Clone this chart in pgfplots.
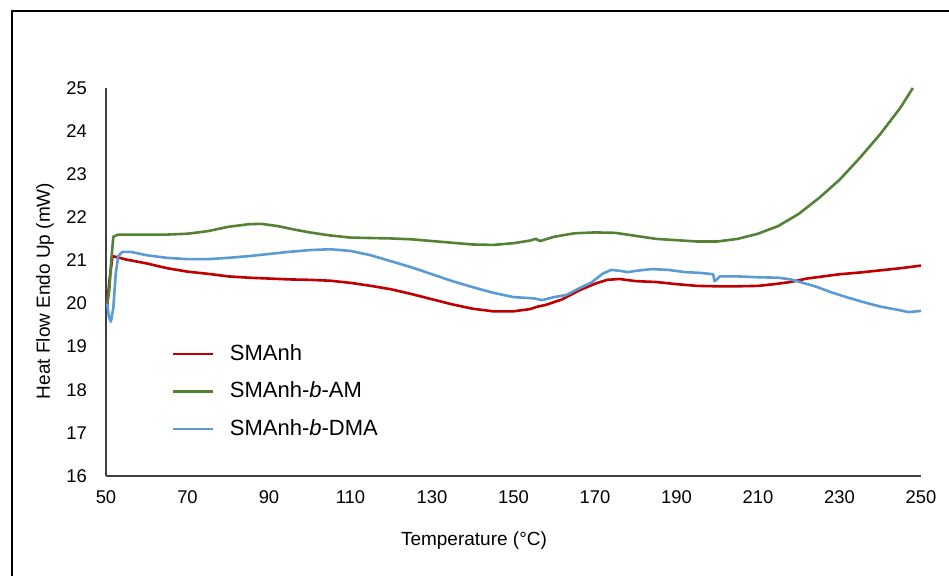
\documentclass[border=0pt]{standalone}
\usepackage{fontspec}
\setmainfont{Liberation Sans}
\usepackage{pgfplots}
\pgfplotsset{compat=1.18}
\definecolor{cred}{RGB}{192,0,0}
\definecolor{cgreen}{RGB}{84,130,53}
\definecolor{cblue}{RGB}{91,155,213}
\begin{document}
\begin{tikzpicture}
\useasboundingbox (0,0) rectangle (474.5pt,288pt);
\draw[line width=1.2pt] (6pt,-2pt) -- (6pt,282.5pt) -- (480pt,282.5pt);
\begin{axis}[
  at={(53pt,50pt)}, anchor=south west,
  scale only axis, width=407.5pt, height=194pt,
  xmin=50, xmax=250, ymin=16, ymax=25,
  xtick={50,70,...,250}, ytick={16,17,...,25},
  axis x line*=bottom, axis y line*=left,
  axis line style={black!75, line width=0.6pt},
  major tick length=0pt,
  /pgf/number format/assume math mode=true,
  tick label style={font=\fontsize{9.2}{10}\selectfont},
  xticklabel style={yshift=-4pt},
  yticklabel style={xshift=-6pt},
  clip=false,
  every axis x label/.style={at={(axis description cs:0.4515,-0.1675)}, anchor=center, font=\fontsize{9.5}{11}\selectfont},
  every axis y label/.style={at={(axis description cs:-0.0748,0.4768)}, anchor=center, rotate=90, font=\fontsize{9.5}{11}\selectfont},
  xlabel={Temperature (°C)},
  ylabel={Heat Flow Endo Up (mW)},
  legend style={draw=none, fill=none, at={(axis description cs:0.0726,0.36)}, anchor=north west,
    font=\fontsize{11}{12}\selectfont, row sep=5.2pt},
  legend cell align=left,
  legend image code/.code={\draw[#1, line width=1.3pt] (0pt,0pt) -- (20pt,0pt); \path[draw=none] (20pt,0pt) -- (26.5pt,0pt);},
  every axis plot/.append style={line width=1.3pt, line join=round},
]
\addplot[cred] coordinates {(50.3,19.95)(50.8,20.5)(51.6,21.1)(52.5,21.08)(55,21.02)(60,20.93)(65,20.82)(70,20.74)(75,20.69)(80,20.63)(85,20.6)(90,20.58)(95,20.56)(100,20.55)(105,20.53)(110,20.48)(115,20.41)(120,20.33)(125,20.22)(130,20.1)(135,19.98)(140,19.88)(145,19.82)(150,19.82)(154,19.87)(156,19.93)(158,19.97)(162,20.1)(166,20.3)(170,20.46)(173,20.55)(176,20.57)(180,20.52)(185,20.5)(190,20.45)(195,20.41)(200,20.4)(205,20.4)(210,20.41)(214,20.45)(218,20.5)(222,20.58)(226,20.63)(230,20.68)(235,20.72)(240,20.77)(245,20.82)(250,20.88)};
\addlegendentry{SMAnh}
\addplot[cgreen] coordinates {(50.3,20.0)(50.8,20.3)(51.3,21.0)(51.8,21.55)(53,21.6)(60,21.6)(65,21.6)(70,21.62)(75,21.68)(80,21.78)(85,21.84)(88,21.85)(92,21.8)(96,21.72)(100,21.65)(105,21.58)(110,21.53)(115,21.52)(120,21.51)(125,21.49)(130,21.45)(135,21.41)(140,21.37)(145,21.36)(150,21.4)(154,21.46)(155.5,21.5)(156.5,21.45)(160,21.55)(165,21.63)(170,21.65)(175,21.64)(180,21.57)(185,21.5)(190,21.47)(195,21.44)(200,21.44)(205,21.5)(210,21.62)(215,21.8)(220,22.08)(225,22.45)(230,22.87)(235,23.38)(240,23.93)(245,24.55)(248,25.0)};
\addlegendentry{SMAnh-\textit{b}-AM}
\addplot[cblue] coordinates {(50.3,20.0)(50.7,19.7)(51.2,19.58)(51.8,19.9)(52.4,20.7)(53.0,21.1)(54,21.2)(56,21.2)(60,21.12)(65,21.06)(70,21.03)(75,21.03)(80,21.06)(85,21.1)(90,21.15)(95,21.2)(100,21.24)(105,21.26)(110,21.22)(115,21.12)(120,20.98)(125,20.84)(130,20.68)(135,20.52)(140,20.38)(145,20.25)(150,20.15)(155,20.12)(157,20.08)(160,20.15)(163,20.2)(166,20.35)(169,20.48)(172,20.7)(174,20.78)(176,20.76)(178,20.73)(181,20.77)(184,20.8)(188,20.78)(192,20.73)(196,20.71)(199,20.68)(199.3,20.52)(199.8,20.55)(200.6,20.63)(205,20.63)(210,20.61)(215,20.6)(218,20.56)(221,20.48)(224,20.4)(228,20.26)(232,20.14)(236,20.03)(240,19.93)(244,19.86)(247,19.8)(250,19.83)};
\addlegendentry{SMAnh-\textit{b}-DMA}
\end{axis}
\end{tikzpicture}
\end{document}
